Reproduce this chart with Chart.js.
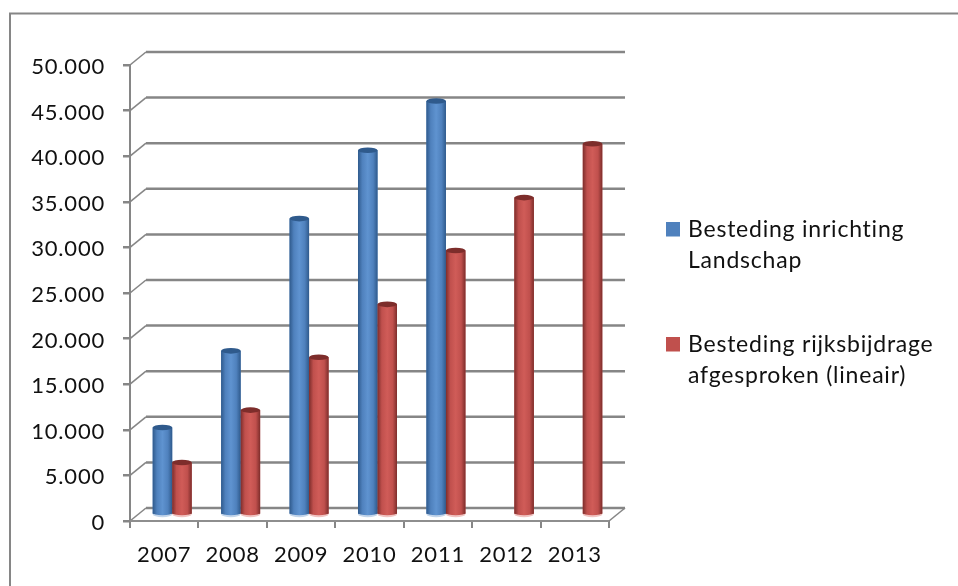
<!DOCTYPE html>
<html><head><meta charset="utf-8">
<style>html,body{margin:0;padding:0;background:#fff}#w{width:958px;height:586px;position:relative}</style>
<script src="https://cdn.jsdelivr.net/npm/chart.js@4"></script>
</head><body><div id="w"><canvas id="c" width="958" height="586"></canvas></div>
<script>
const categories = ["2007","2008","2009","2010","2011","2012","2013"];
const landschap = [9600,18000,32500,40000,45400,null,null];
const rijksbijdrage = [5750,11500,17300,23100,29000,34800,40700];
const seriesNames = ["Besteding inrichting Landschap","Besteding rijksbijdrage afgesproken (lineair)"];
const legendLines = [["Besteding inrichting","Landschap"],["Besteding rijksbijdrage","afgesproken (lineair)"]];
const blue = ["#4f81bd","#2f5a8c","#5f93d0","#c3d5ea"];
const red = ["#c0504d","#7d2d2b","#d05c58","#f0c4c2"];
const FONT = "Lato";
const GRID = "#868686";
const DX = 16, DY = 13, BX = 8, BY = 6;

const scene = {
  id:"scene",
  beforeDraw(chart){
    const c = chart.ctx; c.save();
    c.strokeStyle = "#868686"; c.lineWidth = 2;
    c.beginPath(); c.moveTo(958,13.5); c.lineTo(10,13.5); c.lineTo(10,586); c.stroke();
    c.restore();
  },
  beforeDatasetsDraw(chart){
    const c = chart.ctx, y = chart.scales.y, a = chart.chartArea;
    c.save(); c.strokeStyle = GRID; c.lineCap = "butt";
    y.ticks.forEach(t=>{
      const p = y.getPixelForValue(t.value);
      c.lineWidth = 2.5; c.beginPath(); c.moveTo(a.left+DX,p-DY); c.lineTo(a.right+DX,p-DY); c.stroke();
      c.lineWidth = 1.6; c.beginPath(); c.moveTo(a.left,p); c.lineTo(a.left+DX,p-DY); c.stroke();
    });
    c.beginPath(); c.moveTo(a.right,a.bottom); c.lineTo(a.right+DX,a.bottom-DY); c.stroke();
    c.restore();
    c.save(); c.translate(BX,-BY);
  },
  afterDatasetsDraw(chart){
    const c = chart.ctx;
    chart.data.datasets.forEach((ds,i)=>{
      const pal = i===0?blue:red;
      chart.getDatasetMeta(i).data.forEach((el,k)=>{
        if(ds.data[k]==null) return;
        const l = el.x-el.width/2, r = el.x+el.width/2, rx = el.width/2;
        c.save();
        c.beginPath(); c.ellipse(el.x,el.base+.5,rx,3,0,0,Math.PI*2); c.fillStyle = pal[3]; c.fill();
        const g = c.createLinearGradient(l,0,r,0);
        g.addColorStop(0,pal[1]); g.addColorStop(.22,pal[0]); g.addColorStop(.5,pal[2]);
        g.addColorStop(.78,pal[0]); g.addColorStop(1,pal[1]);
        c.fillStyle = g; c.fillRect(l,el.y,el.width,el.base-el.y);
        c.beginPath(); c.ellipse(el.x,el.base-1,rx,2.5,0,0,Math.PI); c.fill();
        c.beginPath(); c.ellipse(el.x,el.y,rx,2.8,0,0,Math.PI*2); c.fillStyle = pal[1]; c.fill();
        c.restore();
      });
    });
    c.restore();
    const a = chart.chartArea;
    c.save(); c.strokeStyle = "#8e8e8e"; c.lineWidth = 2;
    c.beginPath(); c.moveTo(a.left,a.bottom); c.lineTo(a.right,a.bottom); c.stroke();
    c.restore();
  },
  afterDraw(chart){
    const c = chart.ctx; c.save();
    c.font = "23px "+FONT; c.letterSpacing = "0.78px"; c.textBaseline = "alphabetic"; c.textAlign = "left";
    const sw = [222,337], base = [[237,268],[352,383]];
    legendLines.forEach((ls,i)=>{
      c.fillStyle = (i===0?blue:red)[0]; c.fillRect(666,sw[i],14,14.5);
      c.fillStyle = "#111";
      ls.forEach((t,j)=>c.fillText(t,688,base[i][j]));
    });
    c.restore();
  }
};

const chart = new Chart(document.getElementById("c"),{
  type:"bar",
  plugins:[scene,{id:"spacing",beforeInit(ch){ch.ctx.letterSpacing="0.8px";},beforeUpdate(ch){ch.ctx.letterSpacing="0.8px";}}],
  data:{labels:categories,datasets:[
    {label:seriesNames[0],data:landschap,backgroundColor:blue[0],borderWidth:0},
    {label:seriesNames[1],data:rijksbijdrage,backgroundColor:red[0],borderWidth:0}
  ]},
  options:{
    responsive:false,animation:false,
    layout:{padding:{top:65,right:349,left:0,bottom:0}},
    plugins:{legend:{display:false},tooltip:{enabled:false}},
    datasets:{bar:{categoryPercentage:.57,barPercentage:1}},
    scales:{
      x:{
        offset:true,
        afterFit(s){s.height=65},
        grid:{offset:true,drawOnChartArea:false,drawTicks:true,tickLength:7,color:GRID,lineWidth:2},
        border:{display:false},
        ticks:{color:"#111",font:{family:FONT,size:22},padding:14,maxRotation:0,autoSkip:false}
      },
      y:{
        min:0,max:50000,
        afterFit(s){s.width=130},
        grid:{drawOnChartArea:false,drawTicks:true,tickLength:7,color:GRID,lineWidth:2.5},
        border:{display:true,color:GRID,width:2},
        ticks:{stepSize:5000,color:"#111",font:{family:FONT,size:22},padding:18,labelOffset:2,
          callback:v=>String(v).replace(/(\d)(\d{3})$/,"$1.$2")}
      }
    }
  }
});
</script></body></html>
